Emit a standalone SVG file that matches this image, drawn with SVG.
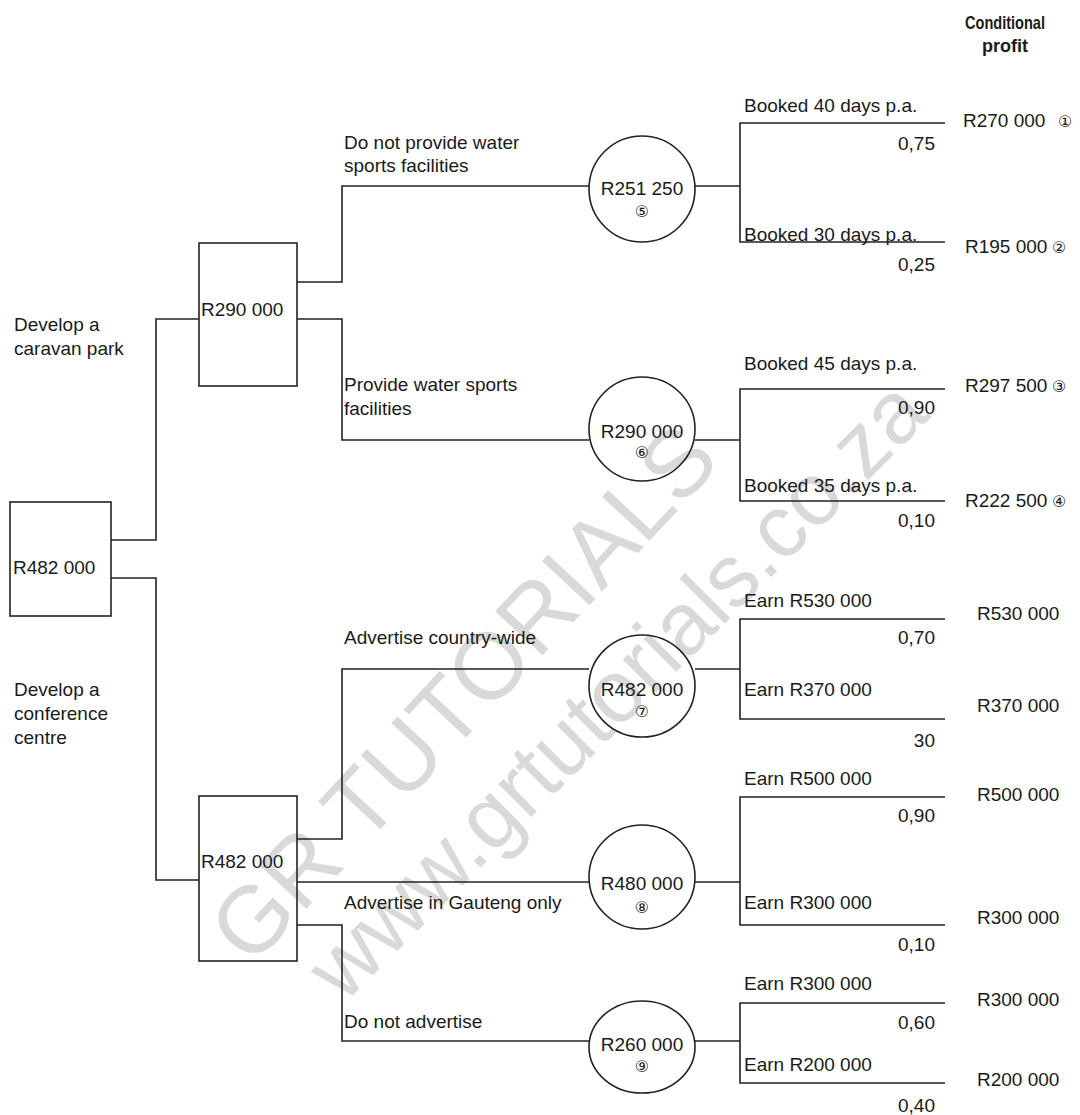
<svg xmlns="http://www.w3.org/2000/svg" width="1080" height="1115" viewBox="0 0 1080 1115">
<style>
  .t { font-family: "Liberation Sans", Arial, sans-serif; font-size: 19px; fill: #1a1a1a; }
  .h { font-family: "Liberation Sans", Arial, sans-serif; font-size: 19px; font-weight: bold; fill: #1a1a1a; }
  .m { text-anchor: middle; }
  .e { text-anchor: end; }
  .n { font-family: "DejaVu Sans", sans-serif; font-size: 16px; fill: #1a1a1a; text-anchor: middle; }
  .c { font-family: "DejaVu Sans", sans-serif; font-size: 16px; fill: #1a1a1a; }
  .ln { stroke: #222; stroke-width: 1.6; fill: none; }
  .shape { stroke: #222; stroke-width: 1.6; fill: none; }
  .wm { font-family: "Liberation Sans", Arial, sans-serif; fill: #d9d9d9; text-anchor: middle; }
</style>

<rect x="0" y="0" width="1080" height="1115" fill="#ffffff"/>

<!-- watermark -->
<g id="watermark">
  <text class="wm" font-size="94" transform="translate(462,692) rotate(-47)" y="34">GR TUTORIALS</text>
  <text class="wm" font-size="88" transform="translate(615,688) rotate(-45)" y="32">www.grtutorials.co.za</text>
</g>

<!-- header -->
<g id="header">
  <text class="h m" x="1005" y="29" textLength="80" lengthAdjust="spacingAndGlyphs">Conditional</text>
  <text class="h m" x="1005" y="52" textLength="46" lengthAdjust="spacingAndGlyphs">profit</text>
</g>

<!-- connectors -->
<g id="connectors">
  <polyline class="ln" points="111,540 156,540 156,319 199,319"/>
  <polyline class="ln" points="111,578 156,578 156,880 199,880"/>
  <polyline class="ln" points="297,282 342,282 342,186 589,186"/>
  <polyline class="ln" points="297,319 342,319 342,440 589,440"/>
  <polyline class="ln" points="297,839 342,839 342,669 589,669"/>
  <polyline class="ln" points="297,882 589,882"/>
  <polyline class="ln" points="297,925 342,925 342,1041 589,1041"/>
  <polyline class="ln" points="695,186 740,186"/>
  <polyline class="ln" points="945,123 740,123 740,242 945,242"/>
  <polyline class="ln" points="695,440 740,440"/>
  <polyline class="ln" points="945,389 740,389 740,501 945,501"/>
  <polyline class="ln" points="695,669 740,669"/>
  <polyline class="ln" points="945,619 740,619 740,719 945,719"/>
  <polyline class="ln" points="695,882 740,882"/>
  <polyline class="ln" points="945,797 740,797 740,925 945,925"/>
  <polyline class="ln" points="695,1041 740,1041"/>
  <polyline class="ln" points="945,1003 740,1003 740,1083 945,1083"/>
</g>

<!-- decision nodes -->
<g id="node-root">
  <rect class="shape" x="10" y="502" width="101" height="114"/>
  <text class="t" x="13" y="574">R482 000</text>
</g>
<g id="node-caravan">
  <rect class="shape" x="199" y="243" width="98" height="143"/>
  <text class="t" x="201" y="316">R290 000</text>
</g>
<g id="node-conference">
  <rect class="shape" x="199" y="796" width="98" height="165"/>
  <text class="t" x="201" y="868">R482 000</text>
</g>

<!-- chance nodes -->
<g id="node-5">
  <ellipse class="shape" cx="642" cy="189" rx="53" ry="53"/>
  <text class="t m" x="642" y="195">R251 250</text>
  <text class="n" x="642" y="217">⑤</text>
</g>
<g id="node-6">
  <ellipse class="shape" cx="642" cy="429" rx="53" ry="52"/>
  <text class="t m" x="642" y="438">R290 000</text>
  <text class="n" x="642" y="458">⑥</text>
</g>
<g id="node-7">
  <ellipse class="shape" cx="642" cy="686" rx="53" ry="51"/>
  <text class="t m" x="642" y="696">R482 000</text>
  <text class="n" x="642" y="717">⑦</text>
</g>
<g id="node-8">
  <ellipse class="shape" cx="642" cy="877" rx="53" ry="52"/>
  <text class="t m" x="642" y="890">R480 000</text>
  <text class="n" x="642" y="913">⑧</text>
</g>
<g id="node-9">
  <ellipse class="shape" cx="642" cy="1047" rx="53" ry="46"/>
  <text class="t m" x="642" y="1051">R260 000</text>
  <text class="n" x="642" y="1072">⑨</text>
</g>

<!-- left labels -->
<g id="labels-left">
  <text class="t" x="14" y="331">Develop a</text>
  <text class="t" x="14" y="355">caravan park</text>
  <text class="t" x="14" y="696">Develop a</text>
  <text class="t" x="14" y="720">conference</text>
  <text class="t" x="14" y="744">centre</text>
</g>

<!-- middle branch labels -->
<g id="labels-mid">
  <text class="t" x="344" y="149">Do not provide water</text>
  <text class="t" x="344" y="172">sports facilities</text>
  <text class="t" x="344" y="391">Provide water sports</text>
  <text class="t" x="344" y="415">facilities</text>
  <text class="t" x="344" y="644">Advertise country-wide</text>
  <text class="t" x="344" y="909">Advertise in Gauteng only</text>
  <text class="t" x="344" y="1028">Do not advertise</text>
</g>

<!-- outcome labels -->
<g id="labels-outcomes">
  <text class="t" x="744" y="112">Booked 40 days p.a.</text>
  <text class="t e" x="935" y="150">0,75</text>
  <text class="t" x="744" y="241">Booked 30 days p.a.</text>
  <text class="t e" x="935" y="271">0,25</text>
  <text class="t" x="744" y="370">Booked 45 days p.a.</text>
  <text class="t e" x="935" y="414">0,90</text>
  <text class="t" x="744" y="492">Booked 35 days p.a.</text>
  <text class="t e" x="935" y="527">0,10</text>
  <text class="t" x="744" y="607">Earn R530 000</text>
  <text class="t e" x="935" y="644">0,70</text>
  <text class="t" x="744" y="696">Earn R370 000</text>
  <text class="t e" x="935" y="747">30</text>
  <text class="t" x="744" y="785">Earn R500 000</text>
  <text class="t e" x="935" y="822">0,90</text>
  <text class="t" x="744" y="909">Earn R300 000</text>
  <text class="t e" x="935" y="951">0,10</text>
  <text class="t" x="744" y="990">Earn R300 000</text>
  <text class="t e" x="935" y="1029">0,60</text>
  <text class="t" x="744" y="1071">Earn R200 000</text>
  <text class="t e" x="935" y="1112">0,40</text>
</g>

<!-- conditional profits -->
<g id="labels-profit">
  <text class="t" x="963" y="127">R270 000</text><text class="c" x="1058" y="127">①</text>
  <text class="t" x="965" y="253">R195 000</text><text class="c" x="1052" y="253">②</text>
  <text class="t" x="965" y="392">R297 500</text><text class="c" x="1052" y="392">③</text>
  <text class="t" x="965" y="507">R222 500</text><text class="c" x="1052" y="507">④</text>
  <text class="t" x="977" y="620">R530 000</text>
  <text class="t" x="977" y="712">R370 000</text>
  <text class="t" x="977" y="801">R500 000</text>
  <text class="t" x="977" y="924">R300 000</text>
  <text class="t" x="977" y="1006">R300 000</text>
  <text class="t" x="977" y="1086">R200 000</text>
</g>
</svg>
